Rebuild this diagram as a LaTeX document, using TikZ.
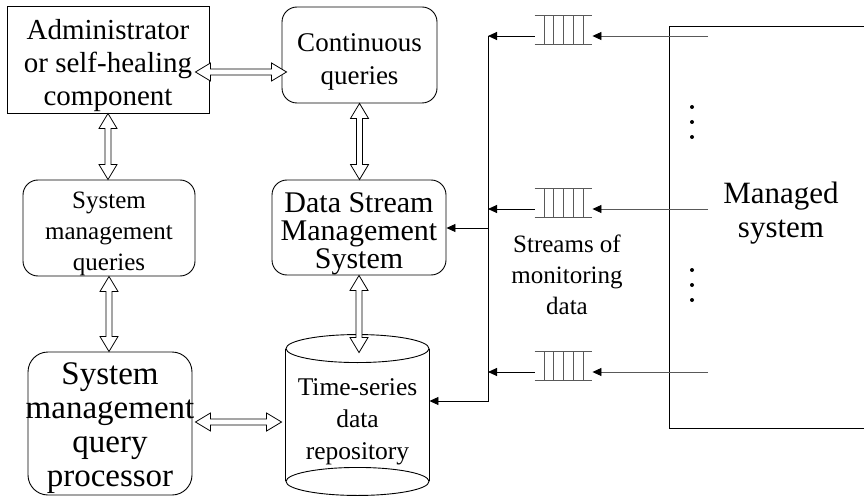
\documentclass[tikz,border=0pt]{standalone}
\usepackage{fontspec}
\setmainfont{Liberation Serif}
\usetikzlibrary{arrows.meta,positioning,calc}

\newcommand{\fsz}[2]{\fontsize{#1}{#2}\selectfont}
\newcommand{\dblarrow}[2]{%
  \draw[hollow] let \p1=($(#2)-(#1)$), \n1={atan2(\y1,\x1)}, \n2={veclen(\x1,\y1)} in
    [shift={(#1)}, rotate=\n1]
    (0pt,0pt) -- (15pt,9pt) -- (15pt,3pt) -- (\n2-15pt,3pt) -- (\n2-15pt,9pt) -- (\n2,0pt)
    -- (\n2-15pt,-9pt) -- (\n2-15pt,-3pt) -- (15pt,-3pt) -- (15pt,-9pt) -- cycle;}

\begin{document}
\begin{tikzpicture}[
  x=1pt, y=-1pt, line width=0.9pt,
  lbl/.style={align=center, inner sep=0pt},
  box/.style={draw, inner sep=0pt},
  rbox/.style={box, rounded corners=15pt},
  arr/.style={-{Triangle[length=9pt,width=8pt,color=black]}},
  hollow/.style={line width=0.8pt, fill=white},
  qline/.style={black!65},
  queue/.style={minimum width=57pt, minimum height=28pt, inner sep=0pt}
]
\useasboundingbox (0,0) rectangle (864,497);

\node[box, minimum width=202pt, minimum height=107pt] (admin) at (108,59.5) {};
\node[rbox, minimum width=155pt, minimum height=96pt] (cq) at (359.5,55) {};
\node[rbox, minimum width=174pt, minimum height=95pt] (dsms) at (359,227.5) {};
\node[rbox, minimum width=172pt, minimum height=96pt] (smq) at (109,228) {};
\node[rbox, rounded corners=20pt, minimum width=164pt, minimum height=143pt] (smqp) at (110,423.5) {};

\node[lbl, font=\fsz{29}{33}] (admin-t) at ([yshift=-6pt]admin.center) {Administrator\\or self-healing\\component};
\node[lbl, font=\fsz{27}{33}] (cq-t) at ([yshift=-7pt]cq.center) {Continuous\\queries};
\node[lbl, font=\fsz{30}{28}] (dsms-t) at ([yshift=-6pt]dsms.center) {Data Stream\\Management\\System};
\node[lbl, font=\fsz{25}{31}] (smq-t) at ([yshift=-6pt]smq.center) {System\\management\\queries};
\node[lbl, font=\fsz{33}{34}] (smqp-t) at ([yshift=-5pt]smqp.center) {System\\management\\query\\processor};

% repository cylinder
\node[minimum width=143pt, minimum height=132pt, inner sep=0pt] (cyl) at (357.5,415) {};
\draw (cyl.north west) -- (cyl.south west) (cyl.north east) -- (cyl.south east);
\draw (cyl.north) ellipse [x radius=71.5pt, y radius=14pt];
\draw (cyl.south) ellipse [x radius=71.5pt, y radius=14pt];
\node[lbl, font=\fsz{25.5}{32}] (cyl-t) at ([yshift=-7pt]cyl.center) {Time-series\\data\\repository};

\node[draw, anchor=north west, minimum width=215pt, minimum height=402pt, inner sep=0pt] (ms) at (669,26) {};
\node[lbl, font=\fsz{31}{34}] (ms-t) at (781,213) {Managed\\system};
\foreach \y in {107,122,137,270,285,300}
  \fill (692,\y) circle [radius=2pt];

\node[lbl, font=\fsz{25}{31}] (streams) at (567,275) {Streams of\\monitoring\\data};

\coordinate (bus) at (488,36);
\coordinate (busend) at (488,401);
\foreach \i/\y in {1/36,2/209,3/372} {
  \node[queue] (q\i) at (563.5,\y-6) {};
  \draw[qline] (q\i.north west) -- (q\i.north east) (q\i.south west) -- (q\i.south east);
  \foreach \dx in {-19.5,-9.75,0,9.75,19.5}
    \draw[qline] ([xshift=\dx pt]q\i.north) -- ([xshift=\dx pt]q\i.south);
  \coordinate (in\i) at (708,\y);
  \draw[qline, arr] (in\i) -- (in\i -| q\i.east);
  \draw[arr] (in\i -| q\i.west) -- (in\i -| bus);
}
\draw[arr] (bus) -- (busend) -- (busend -| cyl.east);
\coordinate (tap) at (488,228);
\draw[arr] (tap) -- (tap -| dsms.east);

\coordinate (acL) at ($(admin.east)+(-14,12.5)$);
\coordinate (acR) at ($(acL -| cq.west)+(5,0)$);
\coordinate (asB) at (admin.south |- smq.north);
\coordinate (sqB) at (smq.south |- smqp.north);
\coordinate (spL) at ($(smqp.east)+(3,-1.5)$);
\coordinate (spR) at ($(spL -| cyl.west)+(-4,0)$);
\coordinate (cqB) at (cq.south |- dsms.north);
\coordinate (dsB) at ($(dsms.south |- cyl.north)+(0,4)$);
\dblarrow{acL}{acR}
\dblarrow{admin.south}{asB}
\dblarrow{smq.south}{sqB}
\dblarrow{spL}{spR}
\dblarrow{cq.south}{cqB}
\dblarrow{dsms.south}{dsB}
\end{tikzpicture}
\end{document}
